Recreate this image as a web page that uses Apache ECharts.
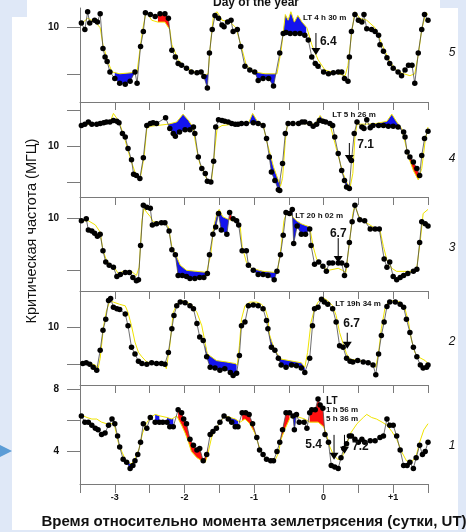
<!DOCTYPE html>
<html>
<head>
<meta charset="utf-8">
<script src="https://cdn.jsdelivr.net/npm/echarts@6/dist/echarts.min.js"></script>
<style>
  html, body { margin: 0; padding: 0; background: #ffffff; }
  #chart { width: 466px; height: 532px; }
</style>
</head>
<body>
<div id="chart"></div>
<script>
// foF2 critical frequency (MHz) against time from the earthquake moment (days, UT).
// Five stations, top to bottom: 5, 4, 3, 2, 1.
// obsN: observed values (black dots), refN: reference curve (yellow),
// devN: spans where the observation departs from the reference ('low' / 'high').

const obs5 = [[-3.48,10.4],[-3.43,9.7],[-3.39,11.6],[-3.36,10.4],[-3.29,10.7],[-3.25,10.5],[-3.21,11.4],[-3.17,7.7],[-3.14,6.8],[-3.11,6.3],[-3.07,5.2],[-3.0,4.5],[-2.93,4.0],[-2.85,3.9],[-2.78,4.2],[-2.71,5.2],[-2.68,4.0],[-2.63,7.9],[-2.59,9.5],[-2.56,11.5],[-2.49,11.3],[-2.42,11.1],[-2.35,11.4],[-2.28,11.4],[-2.23,10.9],[-2.18,7.5],[-2.13,6.8],[-2.09,6.1],[-2.04,5.9],[-1.97,5.6],[-1.9,5.2],[-1.82,5.1],[-1.76,5.2],[-1.72,4.7],[-1.67,3.5],[-1.64,7.2],[-1.6,9.7],[-1.56,11.2],[-1.51,10.9],[-1.46,10.2],[-1.43,10.0],[-1.38,10.5],[-1.33,10.7],[-1.3,9.5],[-1.24,9.7],[-1.19,7.9],[-1.13,5.8],[-1.06,5.4],[-0.99,5.2],[-0.94,4.3],[-0.87,4.5],[-0.79,4.5],[-0.72,3.7],[-0.63,7.2],[-0.58,9.3],[-0.54,9.4],[-0.48,9.3],[-0.41,9.3],[-0.34,9.3],[-0.27,9.1],[-0.22,8.6],[-0.17,6.8],[-0.12,6.1],[-0.08,5.8],[0.0,5.2],[0.07,5.0],[0.14,5.1],[0.21,5.2],[0.26,5.2],[0.3,4.5],[0.35,4.2],[0.37,6.8],[0.4,9.5],[0.45,11.3],[0.5,10.7],[0.55,10.5],[0.58,11.3],[0.62,9.8],[0.69,9.7],[0.74,9.5],[0.79,9.1],[0.81,8.1],[0.86,7.4],[0.91,6.7],[0.95,6.1],[1.0,5.6],[1.07,5.2],[1.12,4.8],[1.17,5.4],[1.22,5.9],[1.27,5.9],[1.31,4.0],[1.36,7.2],[1.41,9.7],[1.45,11.3],[1.5,10.7]];
const ref5 = [[-3.5,10.2],[-3.39,10.9],[-3.28,10.5],[-3.21,9.9],[-3.17,8.1],[-3.1,6.3],[-3.04,5.2],[-2.93,5.0],[-2.78,5.1],[-2.68,5.2],[-2.64,7.5],[-2.6,9.7],[-2.55,11.6],[-2.47,10.7],[-2.38,10.5],[-2.28,10.5],[-2.21,9.7],[-2.18,8.1],[-2.09,6.5],[-1.99,5.7],[-1.85,5.2],[-1.7,4.9],[-1.66,5.0],[-1.62,8.6],[-1.58,11.3],[-1.53,11.6],[-1.46,10.7],[-1.34,10.5],[-1.26,9.9],[-1.19,8.1],[-1.11,5.9],[-0.99,5.2],[-0.84,5.0],[-0.67,5.0],[-0.61,7.5],[-0.55,11.3],[-0.51,10.7],[-0.47,11.6],[-0.42,10.5],[-0.37,11.2],[-0.31,10.5],[-0.24,9.9],[-0.17,8.1],[-0.08,6.5],[0.02,5.4],[0.16,5.1],[0.31,4.8],[0.35,5.9],[0.41,9.7],[0.45,11.6],[0.52,10.9],[0.62,10.7],[0.74,9.9],[0.84,8.1],[0.95,6.3],[1.07,5.2],[1.24,4.8],[1.31,5.0],[1.36,7.0],[1.41,9.7],[1.47,11.5],[1.5,11.3]];
const dev5 = [[-3.0,-2.71,'low'],[-2.38,-2.21,'high'],[-1.73,-1.66,'low'],[-0.99,-0.68,'low'],[-0.58,-0.25,'low']];

const obs4 = [[-3.48,12.9],[-3.43,13.1],[-3.38,13.4],[-3.33,13.1],[-3.26,13.1],[-3.21,13.2],[-3.16,13.3],[-3.12,13.4],[-3.07,13.4],[-3.02,13.6],[-2.97,13.5],[-2.94,13.3],[-2.89,11.8],[-2.85,11.3],[-2.81,9.7],[-2.76,8.1],[-2.73,6.1],[-2.69,5.9],[-2.64,5.5],[-2.59,8.4],[-2.54,12.9],[-2.49,13.2],[-2.45,13.3],[-2.4,13.2],[-2.27,14.0],[-2.21,12.5],[-2.16,11.8],[-2.13,11.4],[-2.07,12.0],[-1.99,12.3],[-1.92,12.3],[-1.87,12.7],[-1.85,11.8],[-1.8,8.5],[-1.75,6.9],[-1.7,6.2],[-1.67,5.1],[-1.62,5.0],[-1.58,7.9],[-1.55,12.7],[-1.51,13.7],[-1.46,13.6],[-1.42,13.5],[-1.37,13.4],[-1.32,13.2],[-1.27,13.1],[-1.23,13.1],[-1.18,13.2],[-1.11,13.2],[-1.01,13.3],[-0.94,13.2],[-0.87,12.9],[-0.82,11.1],[-0.78,8.5],[-0.75,6.4],[-0.7,5.2],[-0.65,3.9],[-0.63,3.8],[-0.59,7.6],[-0.55,11.8],[-0.51,13.2],[-0.44,13.2],[-0.36,13.2],[-0.31,13.4],[-0.27,13.4],[-0.2,13.2],[-0.15,12.8],[-0.1,13.1],[-0.06,13.6],[-0.01,13.5],[0.03,13.4],[0.09,13.2],[0.13,12.9],[0.16,11.3],[0.21,9.0],[0.26,6.6],[0.3,5.2],[0.33,4.3],[0.37,4.1],[0.4,8.0],[0.44,11.8],[0.48,13.4],[0.55,12.7],[0.58,12.5],[0.62,13.7],[0.67,12.6],[0.71,12.9],[0.79,12.9],[0.86,12.9],[0.93,12.8],[1.0,12.8],[1.07,12.7],[1.15,12.0],[1.17,11.3],[1.2,9.2],[1.24,8.5],[1.29,7.8],[1.34,6.9],[1.38,5.9],[1.41,8.7],[1.45,11.1],[1.5,12.1]];
const ref4 = [[-3.5,12.8],[-3.43,13.1],[-3.21,13.1],[-3.07,13.3],[-3.02,14.6],[-2.97,13.9],[-2.93,13.2],[-2.85,10.8],[-2.81,9.4],[-2.76,7.8],[-2.71,6.4],[-2.64,5.2],[-2.58,8.5],[-2.54,12.5],[-2.49,12.8],[-2.4,12.9],[-2.23,13.1],[-2.11,13.4],[-2.02,14.5],[-1.94,13.6],[-1.88,12.7],[-1.82,9.4],[-1.78,7.6],[-1.7,5.9],[-1.66,5.0],[-1.61,5.2],[-1.56,9.9],[-1.53,12.5],[-1.46,12.9],[-1.3,13.1],[-1.08,13.2],[-1.02,14.6],[-0.94,13.3],[-0.87,13.1],[-0.82,10.8],[-0.77,9.0],[-0.72,7.1],[-0.66,5.5],[-0.62,4.4],[-0.59,5.5],[-0.55,10.8],[-0.52,13.1],[-0.34,13.2],[-0.12,13.1],[-0.05,14.3],[0.02,13.4],[0.09,13.1],[0.14,11.3],[0.19,9.4],[0.24,7.6],[0.28,6.2],[0.33,5.0],[0.38,4.2],[0.42,6.2],[0.45,11.3],[0.48,13.1],[0.62,13.1],[0.76,13.2],[0.91,13.5],[0.98,14.5],[1.05,13.4],[1.12,12.5],[1.17,10.6],[1.22,8.5],[1.29,6.6],[1.36,5.3],[1.41,6.9],[1.46,10.8],[1.5,12.7]];
const dev4 = [[-2.23,-1.86,'low'],[-1.09,-0.93,'low'],[-0.78,-0.61,'low'],[-0.07,0.04,'low'],[0.26,0.38,'low'],[0.65,1.13,'low'],[1.22,1.38,'high']];

const obs3 = [[-3.48,9.8],[-3.41,10.0],[-3.38,8.9],[-3.33,8.8],[-3.29,8.6],[-3.25,8.3],[-3.21,8.5],[-3.17,6.9],[-3.13,5.8],[-3.08,5.5],[-3.02,5.3],[-2.97,4.4],[-2.92,4.6],[-2.85,4.8],[-2.79,4.8],[-2.74,4.3],[-2.69,4.0],[-2.66,4.1],[-2.63,7.4],[-2.59,11.3],[-2.54,11.1],[-2.49,11.0],[-2.46,9.4],[-2.4,9.5],[-2.33,9.6],[-2.28,9.6],[-2.22,8.8],[-2.18,7.0],[-2.13,6.5],[-2.09,4.5],[-2.03,4.5],[-1.97,4.4],[-1.92,4.2],[-1.85,4.2],[-1.78,4.3],[-1.72,4.3],[-1.67,4.7],[-1.64,6.5],[-1.59,8.5],[-1.55,9.2],[-1.51,10.5],[-1.47,8.9],[-1.39,8.5],[-1.35,10.6],[-1.3,10.0],[-1.25,9.8],[-1.22,9.4],[-1.17,6.9],[-1.11,6.9],[-1.08,5.5],[-1.01,5.0],[-0.94,4.6],[-0.87,4.6],[-0.8,4.5],[-0.71,4.1],[-0.67,4.9],[-0.62,6.5],[-0.58,8.4],[-0.54,10.6],[-0.49,10.5],[-0.45,10.9],[-0.43,7.6],[-0.38,9.3],[-0.32,8.5],[-0.26,8.5],[-0.2,9.0],[-0.18,7.4],[-0.13,5.6],[-0.07,5.8],[-0.01,5.4],[0.04,4.9],[0.08,5.7],[0.13,5.7],[0.21,5.7],[0.26,5.7],[0.3,4.5],[0.33,5.5],[0.37,7.7],[0.41,9.7],[0.45,11.3],[0.52,9.9],[0.59,9.8],[0.67,9.0],[0.74,9.0],[0.8,9.0],[0.87,6.1],[0.91,5.3],[0.95,5.8],[1.0,4.4],[1.05,4.1],[1.1,4.3],[1.15,4.5],[1.21,4.7],[1.29,4.9],[1.34,5.1],[1.38,7.7],[1.41,9.7],[1.46,9.5],[1.5,9.3]];
const ref3 = [[-3.5,9.8],[-3.38,9.8],[-3.28,9.4],[-3.21,8.7],[-3.17,6.9],[-3.12,6.0],[-3.07,5.5],[-3.0,5.2],[-2.95,4.7],[-2.88,4.9],[-2.76,4.9],[-2.69,4.5],[-2.65,5.3],[-2.61,9.8],[-2.58,11.0],[-2.54,10.6],[-2.49,10.2],[-2.45,9.7],[-2.28,9.6],[-2.23,9.2],[-2.18,7.3],[-2.13,6.6],[-2.06,5.5],[-1.97,5.0],[-1.82,4.9],[-1.68,4.8],[-1.62,6.6],[-1.58,9.2],[-1.53,10.6],[-1.5,10.9],[-1.45,10.2],[-1.39,10.0],[-1.35,9.9],[-1.3,9.8],[-1.24,9.7],[-1.2,9.4],[-1.17,7.3],[-1.11,5.8],[-1.04,5.2],[-0.87,4.9],[-0.7,4.8],[-0.66,5.0],[-0.61,7.3],[-0.57,9.8],[-0.53,10.6],[-0.46,10.3],[-0.39,9.8],[-0.32,9.5],[-0.2,9.2],[-0.15,7.3],[-0.1,6.1],[-0.03,5.5],[0.07,5.0],[0.21,5.2],[0.27,5.0],[0.32,4.8],[0.37,7.6],[0.42,10.5],[0.45,11.3],[0.5,10.3],[0.57,9.8],[0.71,9.2],[0.81,8.9],[0.86,7.3],[0.91,6.0],[0.98,5.2],[1.05,4.9],[1.29,4.9],[1.34,5.3],[1.39,7.9],[1.43,10.5],[1.5,10.9]];
const dev3 = [[-2.18,-1.68,'low'],[-1.59,-1.37,'low'],[-1.36,-1.33,'high'],[-1.08,-0.68,'low'],[-0.5,-0.2,'low']];

const obs2 = [[-3.46,5.1],[-3.41,5.2],[-3.36,5.0],[-3.31,4.6],[-3.26,4.2],[-3.21,6.9],[-3.17,9.6],[-3.13,11.1],[-3.09,13.6],[-3.06,13.9],[-3.02,12.7],[-2.97,12.5],[-2.93,12.4],[-2.85,11.8],[-2.81,10.2],[-2.76,7.3],[-2.71,6.4],[-2.66,5.4],[-2.61,5.1],[-2.54,5.0],[-2.47,5.2],[-2.4,5.1],[-2.33,5.1],[-2.28,5.0],[-2.23,6.6],[-2.18,9.8],[-2.15,11.6],[-2.11,12.9],[-2.06,13.4],[-1.99,13.3],[-1.92,12.9],[-1.87,12.5],[-1.82,10.5],[-1.78,8.7],[-1.73,8.2],[-1.68,6.0],[-1.63,4.6],[-1.56,4.5],[-1.49,4.2],[-1.42,4.4],[-1.34,3.9],[-1.3,3.5],[-1.25,3.8],[-1.21,6.2],[-1.18,10.2],[-1.13,10.7],[-1.08,12.9],[-1.01,13.0],[-0.94,12.9],[-0.87,12.5],[-0.82,10.9],[-0.8,9.8],[-0.75,7.3],[-0.7,6.9],[-0.65,5.8],[-0.61,4.9],[-0.54,4.6],[-0.46,4.9],[-0.39,4.8],[-0.32,4.5],[-0.27,3.9],[-0.2,5.8],[-0.16,10.2],[-0.13,12.5],[-0.08,12.7],[-0.03,13.8],[0.01,13.4],[0.06,13.1],[0.13,12.5],[0.18,10.7],[0.23,7.5],[0.28,7.3],[0.33,5.8],[0.38,5.4],[0.42,5.3],[0.49,5.5],[0.57,5.3],[0.64,5.2],[0.71,4.9],[0.75,3.6],[0.79,6.4],[0.83,8.9],[0.87,10.7],[0.91,12.8],[0.95,13.4],[1.03,13.4],[1.1,13.1],[1.15,12.7],[1.19,11.1],[1.24,9.3],[1.29,7.3],[1.34,6.0],[1.39,4.9],[1.43,4.5],[1.48,4.6],[1.5,4.9]];
const ref2 = [[-3.5,5.1],[-3.38,5.2],[-3.28,4.9],[-3.24,4.4],[-3.21,5.8],[-3.16,10.2],[-3.12,12.2],[-3.07,13.6],[-3.02,13.4],[-2.93,13.1],[-2.85,12.9],[-2.81,12.0],[-2.76,10.2],[-2.71,8.0],[-2.66,6.6],[-2.61,6.0],[-2.54,5.3],[-2.28,4.9],[-2.26,4.4],[-2.21,7.5],[-2.16,12.0],[-2.11,13.1],[-2.04,13.6],[-1.97,13.4],[-1.9,13.1],[-1.82,12.0],[-1.75,10.2],[-1.7,7.8],[-1.67,6.4],[-1.54,5.5],[-1.39,5.3],[-1.27,5.1],[-1.24,4.9],[-1.21,7.5],[-1.18,11.1],[-1.13,12.9],[-1.06,13.4],[-0.96,13.4],[-0.89,13.1],[-0.84,12.5],[-0.8,11.3],[-0.78,9.1],[-0.75,8.2],[-0.7,6.9],[-0.65,6.2],[-0.61,5.7],[-0.44,5.4],[-0.32,5.2],[-0.27,4.6],[-0.23,6.6],[-0.18,10.7],[-0.13,12.5],[-0.08,13.4],[-0.01,14.0],[0.06,13.6],[0.13,12.9],[0.18,11.6],[0.23,9.3],[0.28,7.8],[0.33,6.4],[0.38,5.7],[0.57,5.4],[0.66,5.2],[0.75,4.6],[0.79,6.6],[0.83,9.8],[0.88,12.5],[0.93,13.4],[1.0,13.6],[1.1,13.4],[1.17,12.5],[1.22,10.7],[1.26,8.4],[1.31,6.6],[1.36,6.0],[1.46,5.5],[1.5,5.1]];
const dev2 = [[-1.7,-1.25,'low'],[-0.8,-0.27,'low']];

const obs1 = [[-3.48,6.3],[-3.43,5.9],[-3.38,5.9],[-3.33,5.7],[-3.28,5.5],[-3.24,5.4],[-3.19,5.1],[-3.14,5.2],[-3.09,5.7],[-3.04,6.1],[-3.0,5.8],[-2.96,5.0],[-2.93,4.3],[-2.88,3.5],[-2.83,3.3],[-2.78,2.9],[-2.74,3.1],[-2.71,3.4],[-2.67,3.8],[-2.63,4.6],[-2.59,5.8],[-2.54,5.5],[-2.49,6.2],[-2.42,5.9],[-2.36,5.9],[-2.31,5.9],[-2.25,5.9],[-2.21,5.6],[-2.16,5.6],[-2.09,6.7],[-2.04,6.5],[-2.01,6.1],[-1.97,5.8],[-1.92,4.8],[-1.87,4.4],[-1.82,4.1],[-1.78,4.2],[-1.73,3.4],[-1.68,3.8],[-1.63,5.1],[-1.59,5.3],[-1.54,5.5],[-1.49,5.9],[-1.43,6.3],[-1.37,6.1],[-1.32,5.9],[-1.27,5.6],[-1.23,5.6],[-1.17,6.5],[-1.12,6.5],[-1.07,6.4],[-1.02,5.8],[-0.96,4.9],[-0.92,4.1],[-0.87,3.8],[-0.82,3.5],[-0.76,3.4],[-0.72,3.4],[-0.67,4.0],[-0.63,4.6],[-0.59,5.4],[-0.54,6.5],[-0.49,6.5],[-0.44,6.3],[-0.42,5.4],[-0.39,6.4],[-0.35,5.9],[-0.28,5.9],[-0.24,5.5],[-0.2,6.5],[-0.17,6.7],[-0.12,6.7],[-0.08,7.4],[-0.05,7.0],[-0.01,6.8],[0.02,5.1],[0.07,4.6],[0.11,3.1],[0.16,3.0],[0.21,2.9],[0.25,3.6],[0.29,4.2],[0.33,4.5],[0.37,5.0],[0.4,5.0],[0.45,4.8],[0.5,4.6],[0.55,4.8],[0.59,4.6],[0.67,4.7],[0.74,4.7],[0.81,4.9],[0.86,5.0],[0.91,6.1],[0.95,5.7],[1.0,5.7],[1.05,5.0],[1.1,4.1],[1.15,3.1],[1.2,3.1],[1.24,3.3],[1.29,2.9],[1.33,3.6],[1.38,4.4],[1.42,3.8],[1.46,4.0],[1.5,4.6]];
const ref1 = [[-3.5,6.4],[-3.4,6.2],[-3.33,6.1],[-3.26,6.1],[-3.19,5.9],[-3.12,5.8],[-3.04,5.8],[-3.0,5.6],[-2.95,4.6],[-2.9,4.0],[-2.85,3.5],[-2.81,3.3],[-2.76,3.2],[-2.71,3.5],[-2.65,4.2],[-2.6,5.2],[-2.55,5.8],[-2.49,6.2],[-2.42,6.4],[-2.35,6.3],[-2.25,6.2],[-2.18,6.1],[-2.11,6.3],[-2.04,5.7],[-1.99,5.2],[-1.94,4.6],[-1.9,4.0],[-1.82,3.6],[-1.75,3.4],[-1.7,3.3],[-1.66,3.9],[-1.61,4.9],[-1.56,5.4],[-1.49,5.9],[-1.42,6.3],[-1.34,6.2],[-1.27,6.1],[-1.2,5.9],[-1.13,6.1],[-1.06,5.8],[-0.99,5.2],[-0.91,4.1],[-0.84,3.6],[-0.77,3.4],[-0.7,3.4],[-0.65,3.9],[-0.61,4.8],[-0.56,5.4],[-0.48,6.2],[-0.41,6.3],[-0.34,6.2],[-0.27,6.1],[-0.2,5.9],[-0.08,5.9],[0.0,5.6],[0.04,5.1],[0.09,4.3],[0.14,3.8],[0.2,3.5],[0.25,3.5],[0.29,3.9],[0.34,4.6],[0.39,5.2],[0.48,5.8],[0.57,6.2],[0.62,6.4],[0.69,6.2],[0.76,6.1],[0.84,5.9],[0.91,5.7],[0.98,5.3],[1.05,4.8],[1.12,4.0],[1.19,3.4],[1.26,3.3],[1.33,3.7],[1.38,4.6],[1.44,5.4],[1.5,5.8]];
const dev1 = [[-2.83,-2.74,'low'],[-2.42,-2.36,'low'],[-2.25,-2.16,'low'],[-2.09,-1.66,'high'],[-1.37,-1.23,'low'],[-1.17,-0.92,'high'],[-0.63,-0.49,'high'],[-0.44,-0.39,'low'],[-0.2,0.04,'high']];

// Station numbers, frequency ranges and tick values per panel (top to bottom)
const stationIds = ['5', '4', '3', '2', '1'];
const freqRanges = [[2, 12], [2.9, 16.2], [3, 12.1], [2.2, 14.9], [1.9, 8.3]];
const freqTicks = [[5, 10], [5, 10, 15], [5, 10], [5, 10], [4, 6, 8]];
const freqTickLabels = [[10], [10], [10], [10], [4, 8]];

// Time axis (days from the earthquake)
const dayRange = [-3.5, 1.5];
const dayTickValues = [-3, -2, -1, 0, 1];
const dayTickLabels = ['-3', '-2', '-1', '0', '+1'];

// Earthquakes: panel index, time (days), frequency at arrow tip, magnitude, local time note
const quakes = [
  { panel: 0, day: -0.11, tip: 7.0, mag: '6.4', lt: ['LT 4 h 30 m'] },
  { panel: 1, day: 0.37, tip: 7.8, mag: '7.1', lt: ['LT 5 h 26 m'] },
  { panel: 2, day: 0.21, tip: 5.7, mag: '6.7', lt: ['LT 20 h 02 m'] },
  { panel: 3, day: 0.34, tip: 7.1, mag: '6.7', lt: ['LT 19h 34 m'] },
  { panel: 4, day: 0.15, tip: 3.46, mag: '5.4', lt: ['LT', '1 h 56 m', '5 h 36 m'] },
  { panel: 4, day: 0.30, tip: 3.85, mag: '7.2', lt: [] }
];

const observed = [obs5, obs4, obs3, obs2, obs1];
const reference = [ref5, ref4, ref3, ref2, ref1];
const departures = [dev5, dev4, dev3, dev2, dev1];

// ---- layout ----
const FONT = '"Liberation Sans", Arial, sans-serif';
const plotLeft = 80, plotWidth = 348;
const panelBoxes = [
  { top: 8, height: 94 }, { top: 102, height: 95 }, { top: 197, height: 94 },
  { top: 291, height: 94 }, { top: 385, height: 99 }
];
const stationLabelY = [53, 159, 248, 342, 446];
const quakeLayout = [
  { len: 22, mag: [4, -13, 'left'], lt: [-13, -37] },
  { len: 19, mag: [8, -17, 'left'], lt: [-17, -47] },
  { len: 25, mag: [0, -29, 'center'], lt: [-43, -47.5] },
  { len: 16, mag: [-4, -25, 'left'], lt: [-12, -45] },
  { len: 25, mag: [-12, -15, 'right'], lt: [-8, -59] },
  { len: 19, mag: [7.5, -7.5, 'left'], lt: [0, 0] }
];
const axisGrey = '#7a7a7a';

function lineAt(pts, x) {
  if (x <= pts[0][0]) return pts[0][1];
  for (let i = 1; i < pts.length; i++) {
    if (x <= pts[i][0]) {
      const x0 = pts[i - 1][0], y0 = pts[i - 1][1], x1 = pts[i][0], y1 = pts[i][1];
      return x1 === x0 ? y1 : y0 + (y1 - y0) * (x - x0) / (x1 - x0);
    }
  }
  return pts[pts.length - 1][1];
}

// Shaded band between the observed polyline and the reference polyline
function bandRenderer(obs, ref, spans) {
  return function (params, api) {
    const span = spans[params.dataIndex];
    const a = span[0], b = span[1];
    const xs = [a, b];
    obs.concat(ref).forEach(function (p) { if (p[0] > a && p[0] < b) xs.push(p[0]); });
    xs.sort(function (u, v) { return u - v; });
    const upper = xs.map(function (x) { return api.coord([x, lineAt(obs, x)]); });
    const lower = xs.slice().reverse().map(function (x) { return api.coord([x, lineAt(ref, x)]); });
    return {
      type: 'polygon',
      shape: { points: upper.concat(lower) },
      style: { fill: span[2] === 'high' ? '#ff1010' : '#1414ee', stroke: null }
    };
  };
}

const grids = [], xAxes = [], yAxes = [], series = [];
panelBoxes.forEach(function (box, i) {
  grids.push({ left: plotLeft, width: plotWidth, top: box.top, height: box.height });
  const last = i === panelBoxes.length - 1;
  xAxes.push({
    type: 'value', gridIndex: i, min: dayRange[0], max: dayRange[1], interval: 0.5,
    show: last, position: 'bottom',
    axisLine: { show: true, onZero: false, lineStyle: { color: axisGrey, width: 1 } },
    axisTick: { show: true, length: 9, lineStyle: { color: axisGrey } },
    axisLabel: {
      show: true, customValues: dayTickValues, margin: 9,
      formatter: function (v) { const k = dayTickValues.indexOf(Math.round(v * 100) / 100); return k >= 0 ? dayTickLabels[k] : ''; },
      color: '#111', fontSize: 9, fontWeight: 'bold', fontFamily: FONT
    },
    splitLine: { show: false }
  });
  yAxes.push({
    type: 'value', gridIndex: i, min: freqRanges[i][0], max: freqRanges[i][1],
    axisLine: { show: true, onZero: false, lineStyle: { color: axisGrey, width: 1 } },
    axisTick: { show: true, length: 13, customValues: freqTicks[i], lineStyle: { color: axisGrey } },
    axisLabel: {
      show: true, customValues: freqTickLabels[i], margin: 21,
      color: '#111', fontSize: 10, fontWeight: 'bold', fontFamily: FONT
    },
    splitLine: { show: false }
  });
  series.push({
    type: 'custom', xAxisIndex: i, yAxisIndex: i, silent: true, z: 1,
    renderItem: bandRenderer(observed[i], reference[i], departures[i]),
    encode: { x: [0, 1] },
    data: departures[i].map(function (s) { return [s[0], s[1]]; })
  });
  series.push({
    type: 'line', xAxisIndex: i, yAxisIndex: i, data: reference[i], z: 2,
    showSymbol: false, symbol: 'none', silent: true,
    lineStyle: { color: '#f0e400', width: 1 }
  });
  series.push({
    type: 'line', xAxisIndex: i, yAxisIndex: i, data: observed[i], z: 3,
    symbol: 'circle', symbolSize: 5.5, silent: true,
    itemStyle: { color: '#000000' },
    lineStyle: { color: '#4a4a4a', width: 0.8 }
  });
});
// upper frame line with inward ticks for the lower four panels
for (let i = 1; i < panelBoxes.length; i++) {
  xAxes.push({
    type: 'value', gridIndex: i, min: dayRange[0], max: dayRange[1], interval: 0.5, position: 'top',
    axisLine: { show: true, onZero: false, lineStyle: { color: axisGrey, width: 1 } },
    axisTick: { show: true, inside: true, length: 8, lineStyle: { color: axisGrey } },
    axisLabel: { show: false }, splitLine: { show: false }
  });
}

const slideBlue = '#dfe8f7';
const staticGraphics = [
  { type: 'rect', shape: { x: 0, y: 0, width: 12, height: 532 }, style: { fill: slideBlue }, z: 0 },
  { type: 'rect', shape: { x: 0, y: 0, width: 27, height: 17 }, style: { fill: slideBlue }, z: 0 },
  { type: 'rect', shape: { x: 458, y: 0, width: 8, height: 532 }, style: { fill: slideBlue }, z: 0 },
  { type: 'rect', shape: { x: 440, y: 0, width: 26, height: 8 }, style: { fill: slideBlue }, z: 0 },
  { type: 'rect', shape: { x: 0, y: 530, width: 466, height: 2 }, style: { fill: slideBlue }, z: 0 },
  { type: 'polygon', shape: { points: [[0, 445], [12, 451], [0, 457]] }, style: { fill: '#5b9cd6' }, z: 1 },
  { type: 'text', x: 256, y: 2.5, style: { text: 'Day of the year', fontSize: 12, fontWeight: 'bold', fontFamily: FONT, fill: '#111', align: 'center', verticalAlign: 'middle' } },
  { type: 'text', x: 32, y: 231, rotation: Math.PI / 2, style: { text: 'Критическая частота (МГЦ)', fontSize: 14.5, fontFamily: FONT, fill: '#111', align: 'center', verticalAlign: 'middle' } },
  { type: 'text', x: 254, y: 522, z: 5, style: { text: 'Время относительно момента землетрясения (сутки, UT)', fontSize: 15, fontWeight: 'bold', fontFamily: FONT, fill: '#111', align: 'center', verticalAlign: 'middle' } }
];
stationIds.forEach(function (id, i) {
  staticGraphics.push({ type: 'text', x: 452, y: stationLabelY[i], style: { text: id, fontSize: 12, fontStyle: 'italic', fontFamily: FONT, fill: '#111', align: 'center', verticalAlign: 'middle' } });
});

const chart = echarts.init(document.getElementById('chart'), null, { renderer: 'canvas' });
chart.setOption({
  animation: false,
  backgroundColor: '#ffffff',
  grid: grids, xAxis: xAxes, yAxis: yAxes, series: series,
  graphic: staticGraphics
});

// earthquake arrows and notes, placed through the panel scales
const quakeGraphics = [];
quakes.forEach(function (q, k) {
  const lay = quakeLayout[k];
  const tip = chart.convertToPixel({ xAxisIndex: q.panel, yAxisIndex: q.panel }, [q.day, q.tip]);
  const tx = tip[0], ty = tip[1];
  quakeGraphics.push({ type: 'line', shape: { x1: tx, y1: ty - lay.len, x2: tx, y2: ty - 4 }, style: { stroke: '#000', lineWidth: 1 }, z: 20 });
  quakeGraphics.push({ type: 'polygon', shape: { points: [[tx - 4.5, ty - 7], [tx + 4.5, ty - 7], [tx, ty]] }, style: { fill: '#000' }, z: 20 });
  quakeGraphics.push({ type: 'text', x: tx + lay.mag[0], y: ty + lay.mag[1], z: 21, style: { text: q.mag, fontSize: 12, fontWeight: 'bold', fontFamily: FONT, fill: '#111', align: lay.mag[2], verticalAlign: 'middle' } });
  q.lt.forEach(function (line, j) {
    const big = q.lt.length > 1 && j === 0;
    const dy = q.lt.length > 1 ? (j === 0 ? 0 : 9 + (j - 1) * 8.5) : 0;
    quakeGraphics.push({ type: 'text', x: tx + lay.lt[0], y: ty + lay.lt[1] + dy, z: 21, style: { text: line, fontSize: big ? 10 : 8, fontWeight: 'bold', fontFamily: FONT, fill: '#111', align: 'left', verticalAlign: 'middle' } });
  });
});
chart.setOption({ graphic: staticGraphics.concat(quakeGraphics) });
</script>
</body>
</html>
